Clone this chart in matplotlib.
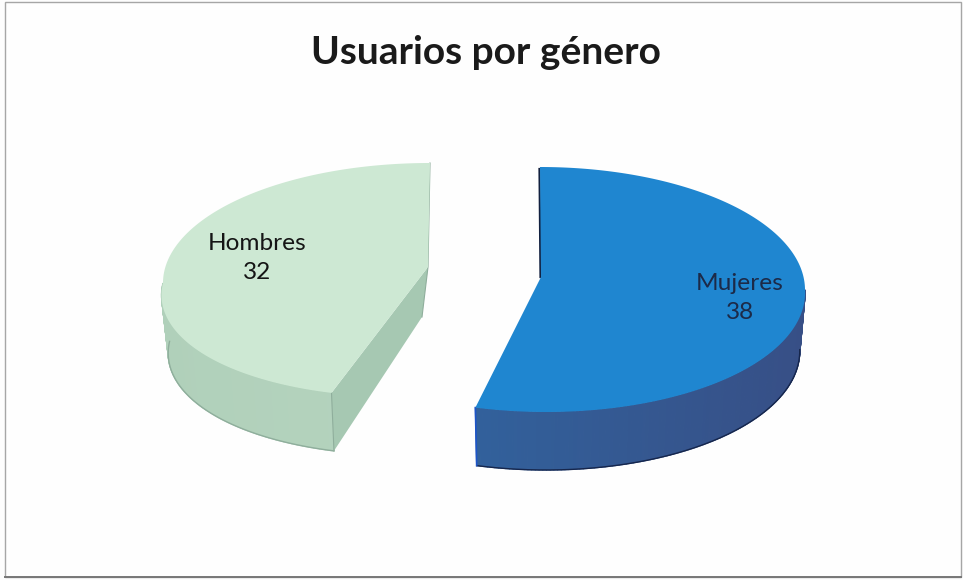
import numpy as np
import matplotlib
matplotlib.use("Agg")
import matplotlib.pyplot as plt
from matplotlib.patches import Polygon, Rectangle
from matplotlib.collections import PolyCollection
from matplotlib.colors import to_rgb

categories = ["Mujeres", "Hombres"]
values = [38, 32]
title = "Usuarios por género"
top_colors = ["#1f86d0", "#cde8d3"]
wall_near = ["#2f6ba8", "#b9d6c1"]
wall_far = ["#374f86", "#b0d0ba"]
face_colors = ["#12203f", "#a6c8b2"]
edge_colors = ["#16264c", "#8fae9c"]

W, H = 963, 580
fig = plt.figure(figsize=(W/100, H/100), dpi=100, facecolor="#fdfdfd")
ax = fig.add_axes([0, 0, 1, 1])
ax.set_xlim(0, W); ax.set_ylim(H, 0); ax.axis("off")
ax.add_patch(Rectangle((5, 2), W-7, H-5, fc="#fefefe", ec="#a6a6a6", lw=1.0))
ax.plot([5, W-2], [577, 577], color="#777777", lw=1.4)

total = sum(values)
fr = np.cumsum([0] + values) / total * 2 * np.pi
layout = [
    dict(c=(540, 290), rx=265, ru=123, rl=122, apex=(541, 277), shear=0.05, d=58, k=0.98, face=(541, 277)),
    dict(c=(430, 283), rx=267, ru=120, rl=114, apex=(428, 267), shear=-0.25, d=58, k=0.975, face=(422, 317)),
]

def mix(a, b, t):
    a, b = np.array(to_rgb(a)), np.array(to_rgb(b))
    return tuple(a + (b - a) * t)

for i in range(len(values)):
    L = layout[i]; cx, cy = L["c"]
    th = np.linspace(fr[i], fr[i + 1], 240)
    c = np.cos(th)
    y = cy - np.where(c > 0, L["ru"], L["rl"]) * c
    x = cx + L["rx"] * np.sin(th) + L["shear"] * np.maximum(y - cy, 0)
    xb = cx + (x - cx) * L["k"]
    yb = y + L["d"]
    ax_, ay_ = L["apex"]
    # walls, shaded strip by strip
    polys, cols = [], []
    for k in range(len(th) - 1):
        if np.cos((th[k] + th[k + 1]) / 2) > 0:
            continue
        polys.append([(x[k], y[k]), (x[k + 1], y[k + 1]), (xb[k + 1], yb[k + 1]), (xb[k], yb[k])])
        t = (np.sin(th[k]) + 1) / 2
        cols.append(mix(wall_near[i], wall_far[i], t if i == 0 else 1 - t))
    ax.add_collection(PolyCollection(polys, facecolors=cols, edgecolors=cols, linewidths=0.9, zorder=3))
    low = np.cos(th) < 0
    ax.plot(xb[low], yb[low], color=edge_colors[i], lw=1.0, zorder=3.5)
    if i == 1:
        # visible cut face of the left slice
        fx, fy = L["face"]
        ax.add_patch(Polygon([(ax_, ay_), (x[0], y[0]), (xb[0], yb[0]), (fx, fy)],
                             fc=face_colors[i], ec="none", zorder=3.2))
        ax.plot([x[0], xb[0]], [y[0], yb[0]], color=edge_colors[i], lw=0.8, zorder=3.6)
        ax.plot([x[-1], ax_, fx], [y[-1], ay_, fy], color=edge_colors[i], lw=0.8, zorder=3.6)
    else:
        # dark sliver along the upper cut of the right slice
        ax.plot([x[0] - 0.5, ax_ - 0.5], [y[0] + 2, ay_], color=face_colors[i], lw=1.6, zorder=3.6)
        ax.plot([x[-1], xb[-1]], [y[-1], yb[-1]], color="#1d55c8", lw=1.2, zorder=3.6)
    pts = np.r_[[(ax_, ay_)], np.c_[x, y]]
    ax.add_patch(Polygon(pts, fc=top_colors[i], ec="none", zorder=4))

font = ["Lato", "DejaVu Sans"]
ax.text(486, 52, title, ha="center", va="center", fontsize=28, fontweight="bold",
        family=font, color="#1a1a1a")
ax.text(740, 298, f"{categories[0]}\n{values[0]}", ha="center", va="center", fontsize=17.6,
        family=font, color="#1c2a48", zorder=6, linespacing=1.5)
ax.text(257, 258, f"{categories[1]}\n{values[1]}", ha="center", va="center", fontsize=17.6,
        family=font, color="#151515", zorder=6, linespacing=1.5)
fig.savefig("out.png", dpi=100, facecolor=fig.get_facecolor())
